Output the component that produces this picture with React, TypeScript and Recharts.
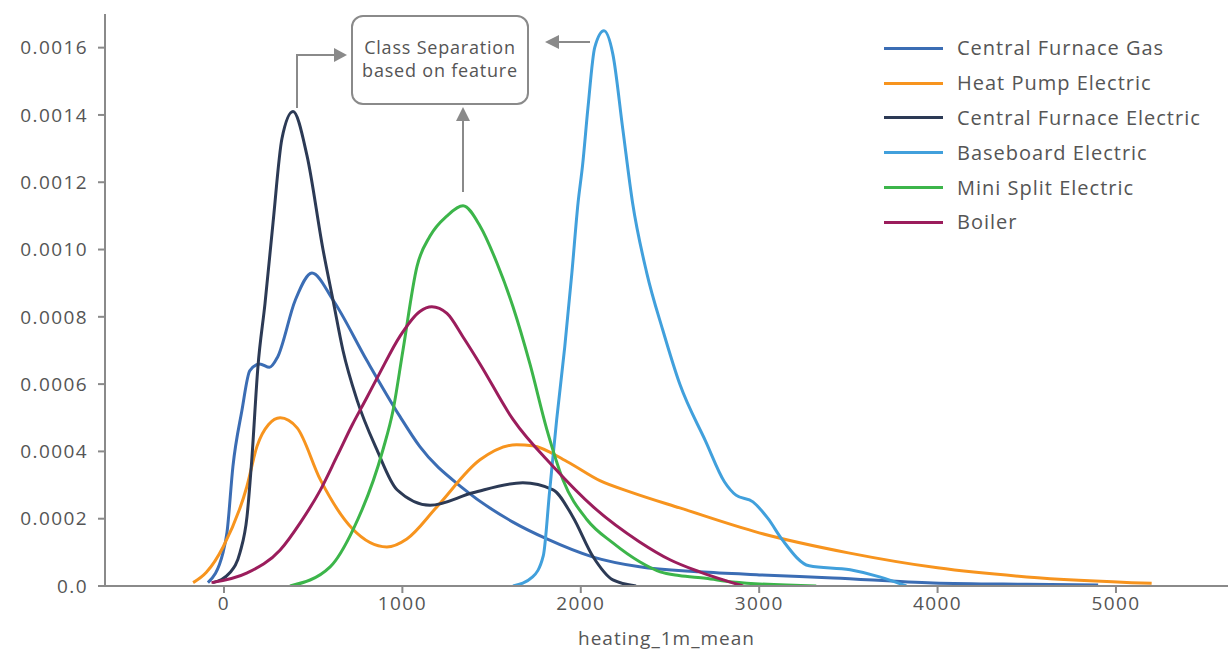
import React from "react";
import { LineChart, Line, XAxis, YAxis, Legend } from "recharts";

// density curves: [heating value, density]
const centralFurnaceGas: [number, number][] = [
  [-90, 0.00001], [-5, 0.0001], [17, 0.00016], [50, 0.000355], [100, 0.00052],
  [145, 0.00064], [200, 0.00066], [255, 0.00065], [300, 0.00068], [400, 0.00085],
  [493, 0.00093], [611, 0.00085], [801, 0.00067], [986, 0.000504], [1098, 0.000414],
  [1340, 0.00029], [1620, 0.00019], [1810, 0.00014], [2070, 0.000086], [2330, 0.000057],
  [2666, 0.000042], [3000, 0.000033], [3414, 0.000024], [3975, 0.000009], [4500, 0.000005],
  [4900, 0.000003],
];

const heatPumpElectric: [number, number][] = [
  [-173, 0.00001], [-100, 0.00004], [-5, 0.000116], [128, 0.000295], [185, 0.000415],
  [250, 0.00048], [315, 0.0005], [410, 0.00047], [540, 0.000316], [720, 0.00017],
  [913, 0.000116], [1025, 0.00014], [1193, 0.000235], [1435, 0.000375], [1640, 0.00042],
  [1730, 0.000417], [1922, 0.00037], [2107, 0.000313], [2292, 0.000277], [2555, 0.000232],
  [3000, 0.000158], [3500, 0.0000985], [4000, 0.000054], [4500, 0.000027], [5200, 0.000008],
];

const centralFurnaceElectric: [number, number][] = [
  [-62, 0.00001], [34, 0.00004], [90, 0.0001], [129, 0.000206], [155, 0.00037],
  [190, 0.00065], [230, 0.00084], [275, 0.00108], [325, 0.00133], [387, 0.00141],
  [465, 0.00128], [555, 0.001], [611, 0.00085], [667, 0.0007], [745, 0.000554],
  [857, 0.000405], [970, 0.000286], [1155, 0.00024], [1395, 0.000277], [1675, 0.000307],
  [1845, 0.000286], [1955, 0.000206], [2070, 0.000086], [2180, 0.000018], [2310, 0],
];

const baseboardElectric: [number, number][] = [
  [1620, 0], [1730, 0.000027], [1790, 0.00009], [1825, 0.00028], [1865, 0.000495],
  [1910, 0.00071], [1950, 0.00093], [1985, 0.00114], [2010, 0.00125], [2040, 0.00142],
  [2078, 0.0016], [2130, 0.00165], [2180, 0.00158], [2235, 0.00136], [2290, 0.00114],
  [2370, 0.00093], [2460, 0.00076], [2555, 0.0006], [2700, 0.00043], [2805, 0.00031],
  [2870, 0.00027], [2965, 0.00025], [3050, 0.0002], [3130, 0.000137], [3280, 0.00006],
  [3510, 0.000048], [3675, 0.000027], [3825, 0],
];

const miniSplitElectric: [number, number][] = [
  [370, 0], [595, 0.000057], [723, 0.000167], [891, 0.000405], [947, 0.00052],
  [1003, 0.0007], [1082, 0.00095], [1155, 0.00104], [1250, 0.0011], [1340, 0.00113],
  [1435, 0.00107], [1530, 0.00096], [1620, 0.00083], [1715, 0.00066], [1810, 0.000465],
  [1900, 0.000316], [2035, 0.000197], [2180, 0.000128], [2330, 0.000072], [2445, 0.000042],
  [2550, 0.000031], [2700, 0.000023], [2850, 0.000012], [3320, 0],
];

const boiler: [number, number][] = [
  [-70, 0.00001], [130, 0.000039], [315, 0.000107], [430, 0.00019], [540, 0.000285],
  [633, 0.000385], [720, 0.00048], [801, 0.00056], [875, 0.000635], [986, 0.000742],
  [1098, 0.000816], [1165, 0.00083], [1250, 0.00081], [1340, 0.00074], [1435, 0.00066],
  [1620, 0.000495], [1845, 0.000355], [2070, 0.000235], [2330, 0.000131], [2500, 0.000078],
  [2666, 0.000042], [2910, 0],
];

const seriesNames = [
  "Central Furnace Gas",
  "Heat Pump Electric",
  "Central Furnace Electric",
  "Baseboard Electric",
  "Mini Split Electric",
  "Boiler",
];
const seriesData = [
  centralFurnaceGas,
  heatPumpElectric,
  centralFurnaceElectric,
  baseboardElectric,
  miniSplitElectric,
  boiler,
];
const COLORS = ["#3b6db4", "#f7941e", "#2c3a55", "#41a0dc", "#3cb54a", "#9b1d5c"];

const xTicks = [0, 1000, 2000, 3000, 4000, 5000];
const yTicks = [0, 0.0002, 0.0004, 0.0006, 0.0008, 0.001, 0.0012, 0.0014, 0.0016];

const AXIS = "#8a8a8a";
const TEXT = "#555555";
const tickStyle = { fill: TEXT, fontSize: 19, letterSpacing: 1.4 };

const LegendBox = () => (
  <div style={{ position: "absolute", left: 884, top: 31 }}>
    {seriesNames.map((name, i) => (
      <div key={name} style={{ display: "flex", alignItems: "center", height: 34.8 }}>
        <div style={{ width: 59, height: 3, background: COLORS[i], marginRight: 14 }} />
        <span style={{ fontSize: 20, letterSpacing: 1, color: TEXT, whiteSpace: "nowrap", lineHeight: "20px" }}>
          {name}
        </span>
      </div>
    ))}
  </div>
);

const Annotations = () => (
  <svg
    width={1230}
    height={651}
    style={{ position: "absolute", left: 0, top: 0, pointerEvents: "none" }}
  >
    <rect x={352} y={16} width={176} height={88} rx={11} fill="#fff" stroke={AXIS} strokeWidth={2} />
    <text x={440} y={54} textAnchor="middle" fontSize={18} letterSpacing={0.8} fill={TEXT}>Class Separation</text>
    <text x={440} y={77} textAnchor="middle" fontSize={18} letterSpacing={0.8} fill={TEXT}>based on feature</text>
    <polyline points="297,108 297,55 336,55" fill="none" stroke={AXIS} strokeWidth={2} />
    <polygon points="347,55 334,48 334,62" fill={AXIS} />
    <line x1={463} y1={192} x2={463} y2={119} stroke={AXIS} strokeWidth={2} />
    <polygon points="463,107 456,121 470,121" fill={AXIS} />
    <line x1={590} y1={42} x2={556} y2={42} stroke={AXIS} strokeWidth={2} />
    <polygon points="545,42 559,35 559,49" fill={AXIS} />
  </svg>
);

export default function App() {
  return (
    <div
      style={{
        position: "absolute",
        left: 0,
        top: 0,
        width: 1230,
        height: 651,
        background: "#fff",
        fontFamily: "'Open Sans', sans-serif",
      }}
    >
      <LineChart width={1230} height={651} margin={{ top: 14, right: 2, bottom: 0, left: 0 }}>
        <XAxis
          type="number"
          dataKey="x"
          domain={[-667, 5628]}
          ticks={xTicks}
          allowDataOverflow
          height={65}
          stroke={AXIS}
          strokeWidth={2}
          tickSize={7}
          tickMargin={4}
          tick={tickStyle}
          label={{
            value: "heating_1m_mean",
            position: "insideBottom",
            offset: 6,
            fill: TEXT,
            fontSize: 19,
            letterSpacing: 1,
          }}
        />
        <YAxis
          type="number"
          domain={[0, 0.0017]}
          ticks={yTicks}
          allowDataOverflow
          width={105}
          stroke={AXIS}
          strokeWidth={2}
          tickSize={7}
          tickMargin={10}
          tick={tickStyle}
          tickFormatter={(v: number) => (v === 0 ? "0.0" : v.toFixed(4))}
        />
        <Legend content={() => null} />
        {seriesData.map((pts, i) => (
          <Line
            key={seriesNames[i]}
            name={seriesNames[i]}
            data={pts.map(([x, y]) => ({ x, y }))}
            dataKey="y"
            type="monotone"
            stroke={COLORS[i]}
            strokeWidth={3}
            dot={false}
            activeDot={false}
            isAnimationActive={false}
          />
        ))}
      </LineChart>
      <Annotations />
      <LegendBox />
    </div>
  );
}
